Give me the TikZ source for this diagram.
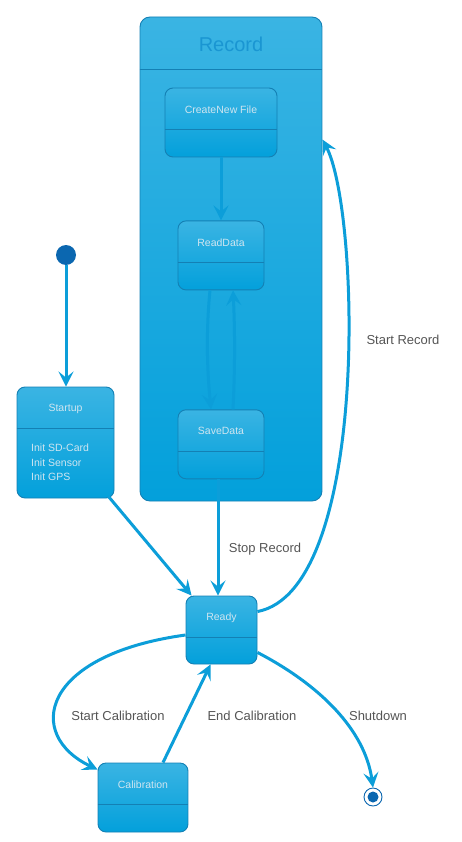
\documentclass[tikz,border=0pt]{standalone}
\usepackage{fontspec}
\setmainfont{Liberation Sans}
\usepackage{tikz}
\usetikzlibrary{positioning,arrows.meta,calc}
\definecolor{umltop}{HTML}{3AB4E3}
\definecolor{umlbot}{HTML}{03A0DB}
\definecolor{umlborder}{HTML}{1480B4}
\definecolor{umlarrow}{HTML}{0C9ED9}
\definecolor{umldot}{HTML}{0B67B0}
\definecolor{umltext}{HTML}{CFE5F0}
\definecolor{umltitle}{HTML}{1A96D2}
\definecolor{umllabel}{HTML}{555555}

\begin{document}
\begin{tikzpicture}[
    x=1pt, y=-1pt,
    >={Stealth[length=15pt,width=15pt,inset=6pt]},
    statebox/.style={draw=umlborder, line width=0.9pt, rounded corners=8pt,
                 top color=umltop, bottom color=umlbot, inner sep=0pt,
                 minimum width=86pt, minimum height=69pt},
    statename/.style={text=umltext, font=\fontsize{10.5}{12}\selectfont},
    divider/.style={draw=umlborder, line width=0.9pt},
    arrow/.style={->, draw=umlarrow, line width=3pt},
    lbl/.style={text=umllabel, font=\fontsize{13}{15}\selectfont},
]
\useasboundingbox (0,0) rectangle (461,842);

% composite state
\node[statebox, rounded corners=10pt, minimum width=182pt, minimum height=484pt] (record) at (231,259) {};
\node[text=umltitle, font=\fontsize{20}{24}\selectfont] at (231,44) {Record};
\draw[divider] ($(record.north west)+(0,53)$) -- ($(record.north east)+(0,53)$);

\node[statebox, minimum width=112pt] (create) at (221,122.5) {};
\node[statebox, below=63pt of create] (read) {};
\node[statebox, below=119pt of read] (save) {};

% outer states
\node[statebox, minimum width=97pt, minimum height=111pt] (startup) at (65.5,442.5) {};
\node[statebox, minimum width=71pt, minimum height=68pt] (ready) at (221.5,630) {};
\node[statebox, minimum width=90pt] (calib) at (143,797.5) {};

\foreach \n in {create,read,save,startup,ready,calib}
  \draw[divider] ($(\n.north west)+(0,42)$) -- ($(\n.north east)+(0,42)$);

\node[statename] at ($(create.north)+(0,22)$) {CreateNew File};
\node[statename] at ($(read.north)+(0,22)$) {ReadData};
\node[statename] at ($(save.north)+(0,22)$) {SaveData};
\node[statename] at ($(startup.north)+(0,22)$) {Startup};
\node[statename] at ($(ready.north)+(0,22)$) {Ready};
\node[statename] at ($(calib.north)+(0,22)$) {Calibration};
\node[statename, align=left, anchor=north west, inner sep=0pt,
      font=\fontsize{10.5}{14.3}\selectfont] at (31,444) {Init SD-Card\\Init Sensor\\Init GPS};

% pseudo states
\node[circle, fill=umldot, minimum size=20pt, inner sep=0pt] (init) at (66,255) {};
\node[circle, draw=umldot, fill=white, line width=0.9pt, minimum size=18pt, inner sep=0pt] (final) at (373,797) {};
\node[circle, fill=umldot, minimum size=11pt, inner sep=0pt] at (final) {};

% transitions
\draw[arrow] (init.south) -- (init.south |- startup.north);
\draw[arrow] (create) -- (read);
\draw[arrow] ([xshift=-11pt]read.south) .. controls +(-4,40) and +(-4,-40) .. ([xshift=-10pt]save.north);
\draw[arrow] ([xshift=12pt]save.north) .. controls +(2,-40) and +(2,40) .. ([xshift=12pt]read.south);
\draw[arrow] ([xshift=-3pt]save.south) -- ([xshift=-3.5pt]ready.north);
\draw[arrow] ($(startup.south east)+(-6,-2)$) -- ($(ready.north west)+(6,0)$);
\draw[arrow] ($(ready.north east)+(0,16)$) .. controls (370,590) and (360,210) .. ($(record.north east)+(0,123)$);
\draw[arrow] ($(ready.west)+(0,5)$) .. controls (40,655) and (25,735) .. ($(calib.north west)+(0,7)$);
\draw[arrow] ($(calib.north)+(20,0)$) -- ($(ready.south)+(-11,0)$);
\draw[arrow] ($(ready.south east)+(0,-12)$) .. controls (320,685) and (365,730) .. (final.north);

% transition labels
\node[lbl] at (403,340) {Start Record};
\node[lbl] at (265,549) {Stop Record};
\node[lbl] at (118,716) {Start Calibration};
\node[lbl] at (252,716) {End Calibration};
\node[lbl] at (378,716) {Shutdown};
\end{tikzpicture}
\end{document}
